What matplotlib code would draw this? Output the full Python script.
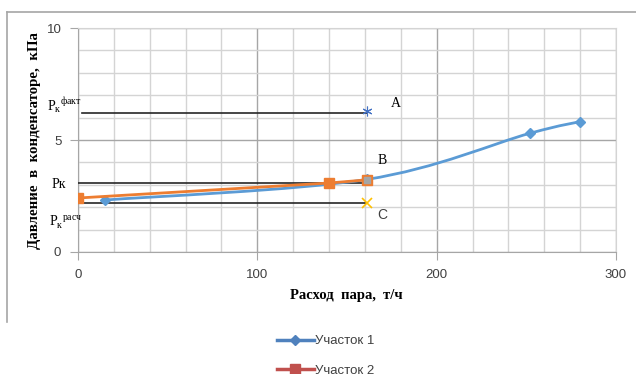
import numpy as np
import matplotlib
matplotlib.use("Agg")
import matplotlib.pyplot as plt
from matplotlib.path import Path
from matplotlib.patches import PathPatch
from matplotlib.lines import Line2D

# ---- data ----
s1_x = [15, 161, 252, 280]
s1_y = [2.32, 3.24, 5.30, 5.82]
s2_x = [0, 140, 161]
s2_y = [2.41, 3.08, 3.22]

ref_names = ["A", "B", "C"]
ref_level_y = [6.2, 3.08, 2.19]     # horizontal reference lines
ref_level_x0 = [2, 0, 1]
ref_point_x = [161, 161, 161]
ref_point_y = [6.3, 3.22, 2.19]

x_ticks = [0, 100, 200, 300]
y_ticks = [0, 5, 10]
series_labels = ["Участок 1", "Участок 2"]

BLUE = "#5B9BD5"
ORANGE = "#ED7D31"

W, H = 636, 374
fig = plt.figure(figsize=(W / 100, H / 100), dpi=100)
ax = fig.add_axes([78 / W, 1 - 252 / H, (616 - 78) / W, (252 - 28) / H])
ax.set_xlim(0, 300)
ax.set_ylim(0, 10)

# grid
ax.set_xticks(x_ticks)
ax.set_yticks(y_ticks)
ax.set_xticks(np.arange(0, 301, 20), minor=True)
ax.set_yticks(np.arange(0, 11, 1), minor=True)
ax.grid(which="minor", color="#d4d4d4", lw=1.0)
ax.grid(which="major", color="#a6a6a6", lw=1.0)
ax.set_axisbelow(True)
for s in ["top", "right"]:
    ax.spines[s].set_color("#d4d4d4")
ax.spines["left"].set_color("#a6a6a6")
ax.spines["bottom"].set_color("#a6a6a6")
ax.tick_params(which="minor", length=0)
ax.tick_params(which="major", length=6, color="#a6a6a6", labelsize=9.5,
               labelcolor="#404040", pad=6)
for lbl in ax.get_xticklabels() + ax.get_yticklabels():
    lbl.set_fontfamily("Liberation Sans")

# smooth (Excel-like) curve through the data points
def smooth_path(xs, ys):
    pts = np.column_stack([xs, ys]).astype(float)
    verts = [pts[0]]
    codes = [Path.MOVETO]
    n = len(pts)
    for i in range(n - 1):
        p0 = pts[i - 1] if i > 0 else pts[i]
        p1 = pts[i]
        p2 = pts[i + 1]
        p3 = pts[i + 2] if i + 2 < n else pts[i + 1]
        c1 = p1 + (p2 - p0) / 6.0
        c2 = p2 - (p3 - p1) / 6.0
        verts += [c1, c2, p2]
        codes += [Path.CURVE4] * 3
    return Path(verts, codes)

# reference horizontal lines
for x0, yl, xp in zip(ref_level_x0, ref_level_y, ref_point_x):
    ax.plot([x0, xp], [yl, yl], color="#262626", lw=1.2, zorder=3)

ax.add_patch(PathPatch(smooth_path(s1_x, s1_y), fc="none", ec=BLUE, lw=2.0, zorder=4))
ax.plot(s1_x, s1_y, ls="none", marker="D", ms=5, color=BLUE, zorder=5)
ax.plot(s2_x, s2_y, color=ORANGE, lw=2.0, marker="s", ms=6.5, zorder=6)

# special points
ax.plot(ref_point_x[0], ref_point_y[0], ls="none", marker=(6, 2, 0), ms=7,
        color="#4472C4", mew=0.8, zorder=7)
ax.plot(ref_point_x[1], ref_point_y[1], ls="none", marker="s", ms=4,
        color="#A5A5A5", zorder=7)
ax.plot(ref_point_x[2], ref_point_y[2], ls="none", marker="x", ms=7,
        color="#FFC000", mew=1.2, zorder=7)

serif = "Liberation Serif"
ax.text(177, 6.65, ref_names[0], fontsize=10, family=serif, ha="center", va="center")
ax.text(169.5, 4.1, ref_names[1], fontsize=10, family=serif, ha="center", va="center")
ax.text(169.5, 1.65, ref_names[2], fontsize=10, family="Liberation Sans",
        ha="center", va="center", color="#404040")

# P labels left of plot
fig.text(47 / W, 1 - 105 / H, r"P$_{\mathregular{к}}$$^{\mathregular{факт}}$", fontsize=10,
         family=serif, ha="left", va="center")
fig.text(52 / W, 1 - 185 / H, "Pк", fontsize=10, family=serif, ha="left", va="center")
fig.text(49 / W, 1 - 222 / H, r"P$_{\mathregular{к}}$$^{\mathregular{расч}}$", fontsize=10,
         family=serif, ha="left", va="center")

# axis labels
fig.text(35 / W, 1 - 141 / H, "Давление  в  конденсаторе,  кПа", rotation=90,
         fontsize=10.7, family=serif, weight="bold", ha="center", va="center")
fig.text(346 / W, 1 - 296 / H, "Расход  пара,  т/ч", fontsize=10.5, family=serif,
         weight="bold", ha="center", va="center")

# chart frame (partial)
fig.add_artist(Line2D([7 / W, 1], [1 - 12 / H, 1 - 12 / H], color="#a6a6a6", lw=1.2))
fig.add_artist(Line2D([7 / W, 7 / W], [1 - 12 / H, 1 - 322 / H], color="#a6a6a6", lw=1.2))

# legend
handles = [Line2D([], [], color="#4F81BD", lw=2.5, marker="D", ms=5),
           Line2D([], [], color="#C0504D", lw=2.5, marker="s", ms=6.5)]
leg = fig.legend(handles, series_labels, loc="center left",
                 bbox_to_anchor=(265 / W, 1 - 356 / H), frameon=False,
                 handlelength=2.8, handletextpad=0.1, labelspacing=1.3,
                 prop={"family": "Liberation Sans", "size": 9.5})
for t in leg.get_texts():
    t.set_color("#404040")

fig.savefig("out.png", dpi=100)
